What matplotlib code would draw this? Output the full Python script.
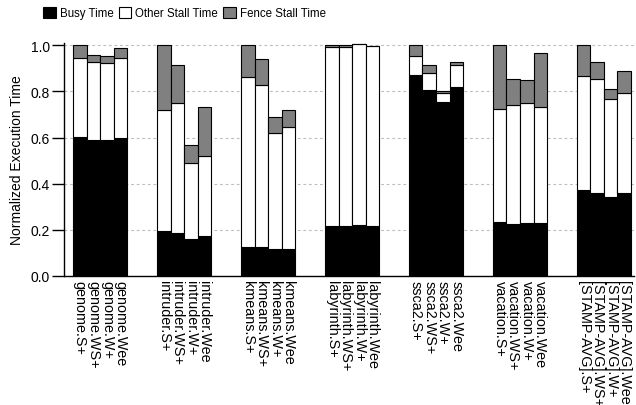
import numpy as np
import matplotlib.pyplot as plt

plt.rcParams['font.family'] = ['Liberation Sans', 'DejaVu Sans']

benchmarks = ["genome", "intruder", "kmeans", "labyrinth", "ssca2", "vacation", "[STAMP-AVG]"]
variants = ["S+", "WS+", "W+", "Wee"]

# segment heights per benchmark, order S+, WS+, W+, Wee
busy = [
    [0.603, 0.590, 0.588, 0.600],
    [0.195, 0.188, 0.162, 0.173],
    [0.127, 0.126, 0.116, 0.116],
    [0.217, 0.217, 0.220, 0.218],
    [0.873, 0.806, 0.753, 0.821],
    [0.234, 0.227, 0.228, 0.231],
    [0.374, 0.360, 0.344, 0.361],
]
other = [
    [0.344, 0.338, 0.337, 0.345],
    [0.525, 0.562, 0.326, 0.347],
    [0.737, 0.703, 0.505, 0.531],
    [0.777, 0.777, 0.784, 0.778],
    [0.081, 0.075, 0.042, 0.095],
    [0.491, 0.516, 0.522, 0.503],
    [0.494, 0.495, 0.422, 0.434],
]
fence = [
    [0.053, 0.032, 0.029, 0.043],
    [0.280, 0.163, 0.081, 0.213],
    [0.136, 0.112, 0.070, 0.074],
    [0.006, 0.006, 0.002, 0.002],
    [0.046, 0.032, 0.005, 0.013],
    [0.275, 0.112, 0.101, 0.231],
    [0.132, 0.074, 0.045, 0.094],
]

busy = np.array(busy).ravel()
other = np.array(other).ravel()
fence = np.array(fence).ravel()

pitch = 6.2
x = np.array([g * pitch + i for g in range(len(benchmarks)) for i in range(len(variants))])
labels = [f"{b}.{v}" for b in benchmarks for v in variants]

fig = plt.figure(figsize=(6.36, 4.06), dpi=100)
ax = fig.add_axes([64 / 636, 1 - 277 / 406, 570 / 636, 233 / 406])

kw = dict(width=1.0, edgecolor="black", linewidth=0.8, zorder=3)
b1 = ax.bar(x, busy, color="black", label="Busy Time", **kw)
b2 = ax.bar(x, other, bottom=busy, color="white", label="Other Stall Time", **kw)
b3 = ax.bar(x, fence, bottom=busy + other, color="#808080", label="Fence Stall Time", **kw)

ax.set_xlim(-1.17, x[-1] + 0.72)
ax.set_ylim(0, 1.01)
ax.set_yticks(np.arange(0, 1.01, 0.2))
ax.set_yticklabels([f"{t:.1f}" for t in np.arange(0, 1.01, 0.2)])
ax.yaxis.grid(True, color="#bdbdbd", linestyle=(0, (2.5, 2.5)), linewidth=0.8)
ax.set_axisbelow(True)

ax.set_xticks(x)
ax.set_xticklabels(labels, rotation=-90, va="top", ha="center")
ax.tick_params(axis="x", length=0, pad=3, labelsize=10.4)
ax.tick_params(axis="y", length=9, width=1, pad=1, labelsize=10)

ax.spines["top"].set_visible(False)
ax.spines["right"].set_visible(False)
ax.spines["left"].set_linewidth(1)
ax.spines["bottom"].set_linewidth(1)

ax.set_ylabel("Normalized Execution Time", fontsize=10, labelpad=5)

fig.legend(handles=[b1, b2, b3], loc="upper left", bbox_to_anchor=(43 / 636, 1 - 8 / 406),
           ncol=3, frameon=False, fontsize=8.3, borderpad=0, borderaxespad=0,
           handlelength=1.1, handleheight=1.1, handletextpad=0.35, columnspacing=0.45)

fig.savefig("out.png", dpi=100)
